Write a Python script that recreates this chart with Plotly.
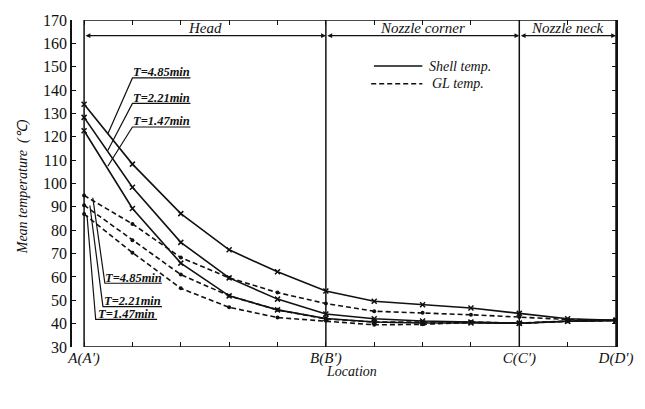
import plotly.graph_objects as go

# ---- data ----
positions = list(range(12))          # measuring stations along the contour
tick_labels = ["A(A')", "", "", "", "", "B(B')", "", "", "", "C(C')", "", "D(D')"]
y_ticks = list(range(30, 171, 10))

shell_485 = [133.9, 108.3, 87.1, 71.6, 62.2, 54.0, 49.6, 48.1, 46.7, 44.4, 42.1, 41.4]
shell_221 = [128.3, 98.4, 74.8, 59.6, 50.5, 44.1, 42.1, 41.1, 40.7, 40.2, 41.0, 41.4]
shell_147 = [122.6, 89.3, 65.9, 51.9, 45.9, 42.2, 40.7, 40.3, 40.3, 40.2, 41.0, 41.4]
gl_485 = [94.9, 82.7, 68.3, 59.6, 53.3, 48.6, 45.3, 44.7, 43.8, 42.8, 41.8, 41.4]
gl_221 = [90.7, 75.7, 61.0, 51.9, 45.9, 42.0, 40.7, 40.7, 40.7, 40.2, 41.1, 41.4]
gl_147 = [86.9, 70.4, 55.1, 47.0, 42.6, 41.2, 39.5, 39.7, 40.5, 40.1, 41.0, 41.4]

sections = ["Head", "Nozzle corner", "Nozzle neck"]
section_bounds = [(0, 5), (5, 9), (9, 11)]

SERIF = "Liberation Serif"
INK = "#111111"

fig = go.Figure()

for ys in (shell_485, shell_221, shell_147):
    fig.add_trace(go.Scatter(
        x=positions, y=ys, mode="lines+markers",
        line=dict(color=INK, width=1.6),
        marker=dict(symbol="x-thin", size=5, line=dict(color=INK, width=1.5)),
        showlegend=False, hoverinfo="skip"))

for ys in (gl_485, gl_221, gl_147):
    fig.add_trace(go.Scatter(
        x=positions, y=ys, mode="lines+markers",
        line=dict(color=INK, width=1.6, dash="5px,3px"),
        marker=dict(symbol="circle", size=4, color=INK),
        showlegend=False, hoverinfo="skip"))

shapes = []
# plot box from A to D
shapes.append(dict(type="rect", xref="x", yref="y", x0=0, x1=11, y0=30, y1=170,
                   line=dict(color=INK, width=1.5)))
# section boundaries B and C
for xv in (5, 9):
    shapes.append(dict(type="line", xref="x", yref="y", x0=xv, x1=xv, y0=30, y1=170,
                       line=dict(color=INK, width=1.5)))

# leader lines + underlines for the T labels
leaders = [
    # upper (shell) labels
    ((0.49, 121.2), (1.0, 145.2), (2.2, 145.2)),
    ((0.49, 114.1), (1.0, 134.3), (2.2, 134.3)),
    ((0.49, 107.4), (1.0, 124.2), (2.2, 124.2)),
    # lower (GL) labels
    ((0.18, 93.9), (0.43, 57.3), (1.61, 57.3)),
    ((0.12, 90.6), (0.39, 47.3), (1.61, 47.3)),
    ((0.06, 86.4), (0.24, 41.8), (1.51, 41.8)),
]
for p0, p1, p2 in leaders:
    shapes.append(dict(type="path", xref="x", yref="y",
                       path=f"M {p0[0]},{p0[1]} L {p1[0]},{p1[1]} L {p2[0]},{p2[1]}",
                       line=dict(color=INK, width=1.2)))

# legend samples (paper coords)
shapes.append(dict(type="line", xref="paper", yref="paper", x0=0.555, x1=0.644,
                   y0=0.859, y1=0.859, line=dict(color=INK, width=1.5)))
shapes.append(dict(type="line", xref="paper", yref="paper", x0=0.550, x1=0.644,
                   y0=0.805, y1=0.805, line=dict(color=INK, width=1.5, dash="5px,3px")))

annotations = []
# dimension arrows on the section band
for (a, b) in section_bounds:
    annotations.append(dict(x=b, y=163.3, ax=a, ay=163.3, xref="x", yref="y",
                            axref="x", ayref="y", text="", showarrow=True,
                            arrowside="end+start", arrowhead=2, arrowsize=0.8,
                            arrowwidth=1.2, arrowcolor=INK))
for name, (a, b) in zip(sections, section_bounds):
    annotations.append(dict(x=(a + b) / 2, y=166.6, xref="x", yref="y", text=f"<i>{name}</i>",
                            showarrow=False, yanchor="middle",
                            font=dict(family=SERIF, size=15, color=INK)))

lab_font = dict(family=SERIF, size=12.5, color=INK)
upper = [("T=4.85min", 147.6), ("T=2.21min", 136.7), ("T=1.47min", 126.6)]
for t, yv in upper:
    annotations.append(dict(x=1.6, y=yv, xref="x", yref="y", text=f"<i><b>{t}</b></i>",
                            showarrow=False, yanchor="middle", font=lab_font))
lower = [("T=4.85min", 1.02, 59.7), ("T=2.21min", 1.0, 49.7), ("T=1.47min", 0.88, 44.2)]
for t, xv, yv in lower:
    annotations.append(dict(x=xv, y=yv, xref="x", yref="y", text=f"<i><b>{t}</b></i>",
                            showarrow=False, yanchor="middle", font=lab_font))

# legend text
annotations.append(dict(x=0.653, y=0.859, xref="paper", yref="paper", xanchor="left",
                        yanchor="middle", text="<i>Shell temp.</i>", showarrow=False,
                        font=dict(family=SERIF, size=14, color=INK)))
annotations.append(dict(x=0.659, y=0.805, xref="paper", yref="paper", xanchor="left",
                        yanchor="middle", text="<i>GL temp.</i>", showarrow=False,
                        font=dict(family=SERIF, size=14, color=INK)))

# axis titles
annotations.append(dict(x=-0.091, y=0.49, xref="paper", yref="paper",
                        xanchor="center", yanchor="middle",
                        text="<i>Mean temperature  (℃)</i>", textangle=-90, showarrow=False,
                        font=dict(family=SERIF, size=14, color=INK)))
annotations.append(dict(x=0.514, y=-0.075, xref="paper", yref="paper",
                        xanchor="center", yanchor="middle",
                        text="<i>Location</i>", showarrow=False,
                        font=dict(family=SERIF, size=14, color=INK)))

fig.update_layout(
    width=645, height=409,
    margin=dict(l=72, r=22, t=14, b=62),
    paper_bgcolor="white", plot_bgcolor="white",
    showlegend=False,
    shapes=shapes, annotations=annotations,
    xaxis=dict(range=[-0.25, 11], tickvals=positions,
               ticktext=[f"<i>{t}</i>" if t else "" for t in tick_labels],
               ticks="inside", ticklen=5, tickwidth=1.2, tickcolor=INK,
               mirror="ticks", showline=False, showgrid=False, zeroline=False,
               tickfont=dict(family=SERIF, size=15, color=INK)),
    yaxis=dict(range=[30, 170], tickvals=y_ticks,
               ticks="inside", ticklen=4, tickwidth=1.2, tickcolor=INK,
               mirror="ticks", showline=True, linecolor=INK, linewidth=1.5,
               showgrid=False, zeroline=False,
               tickfont=dict(family=SERIF, size=16, color=INK)),
)

fig.write_html("out.html")
